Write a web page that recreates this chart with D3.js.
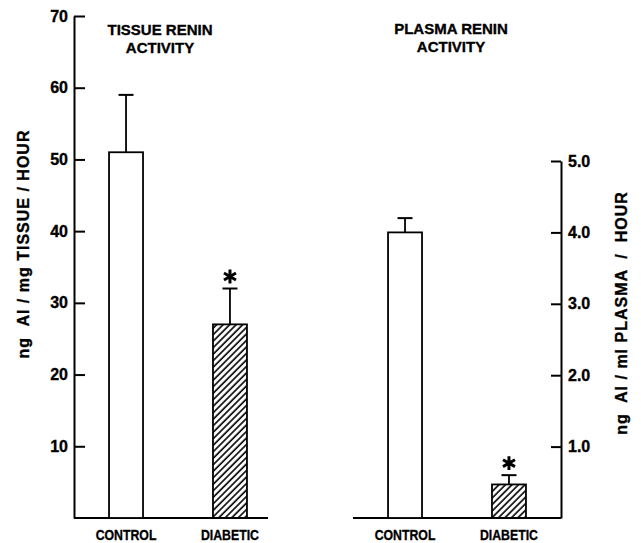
<!DOCTYPE html>
<html>
<head>
<meta charset="utf-8">
<script src="https://cdn.jsdelivr.net/npm/d3@7"></script>
<style>
  body { margin: 0; background: #fff; }
  svg { display: block; font-family: "Liberation Sans", Arial, sans-serif; font-weight: bold; }
  svg text { stroke: #000; stroke-width: 0.35px; }
</style>
</head>
<body>
<svg id="chart" width="641" height="543"></svg>
<script>
// values
const categories = ["CONTROL", "DIABETIC"];
const tissueMean = [51, 27];      // ng AI / mg tissue / hour
const tissueSem = [8, 5];
const plasmaMean = [4.0, 0.47];   // ng AI / ml plasma / hour
const plasmaSem = [0.2, 0.13];
const significant = [false, true];
const tissueTicks = [10, 20, 30, 40, 50, 60, 70];
const plasmaTicks = [1, 2, 3, 4, 5];

const width = 641, height = 543;
const baseY = 518;

const svg = d3.select("#chart");

// diagonal hatch for the diabetic bars
svg.append("defs").append("pattern")
    .attr("id", "hatch")
    .attr("patternUnits", "userSpaceOnUse")
    .attr("width", 4.6)
    .attr("height", 4.6)
    .attr("patternTransform", "rotate(45)")
    .append("line")
    .attr("x1", 1).attr("y1", 0)
    .attr("x2", 1).attr("y2", 4.6)
    .attr("stroke", "#000")
    .attr("stroke-width", 1.6);

const fillFor = i => i === 1 ? "url(#hatch)" : "#fff";

function panel({mean, sem, x, y}) {
    const g = svg.append("g");

    // bars
    g.selectAll("rect.bar")
        .data(categories)
        .join("rect")
        .attr("class", "bar")
        .attr("x", d => x(d))
        .attr("width", x.bandwidth())
        .attr("y", (d, i) => y(mean[i]))
        .attr("height", (d, i) => y(0) - y(mean[i]))
        .attr("fill", (d, i) => fillFor(i))
        .attr("stroke", "#000")
        .attr("stroke-width", 1.8);

    // upper error bars
    const cap = 15;
    g.selectAll("line.err")
        .data(categories)
        .join("line")
        .attr("class", "err")
        .attr("x1", d => x(d) + x.bandwidth() / 2)
        .attr("x2", d => x(d) + x.bandwidth() / 2)
        .attr("y1", (d, i) => y(mean[i]))
        .attr("y2", (d, i) => y(mean[i] + sem[i]))
        .attr("stroke", "#000")
        .attr("stroke-width", 1.8);
    g.selectAll("line.cap")
        .data(categories)
        .join("line")
        .attr("class", "cap")
        .attr("x1", d => x(d) + x.bandwidth() / 2 - cap / 2)
        .attr("x2", d => x(d) + x.bandwidth() / 2 + cap / 2)
        .attr("y1", (d, i) => y(mean[i] + sem[i]))
        .attr("y2", (d, i) => y(mean[i] + sem[i]))
        .attr("stroke", "#000")
        .attr("stroke-width", 2);

    // significance asterisks
    g.selectAll("path.star")
        .data(categories.filter((d, i) => significant[i]))
        .join("path")
        .attr("class", "star")
        .attr("d", d3.symbol(d3.symbolAsterisk, 135))
        .attr("transform", d => {
            const i = categories.indexOf(d);
            return `translate(${x(d) + x.bandwidth() / 2},${y(mean[i] + sem[i]) - 12})`;
        })
        .attr("fill", "none")
        .attr("stroke", "#000")
        .attr("stroke-width", 3);

    // category labels (narrow, tall type as in the original)
    g.selectAll("text.cat")
        .data(categories)
        .join("text")
        .attr("class", "cat")
        .attr("transform", d => `translate(${x(d) + x.bandwidth() / 2},540) scale(0.82,1)`)
        .attr("text-anchor", "middle")
        .style("font-size", "15px")
        .text(d => d);

    return g;
}

// ---- left panel: tissue renin
const xL = d3.scaleBand().domain(categories).range([74, 282]).paddingInner(0.673).paddingOuter(0.337);
const yL = d3.scaleLinear().domain([0, 70]).range([baseY, 16]);

svg.append("line")
    .attr("x1", 74).attr("x2", 268)
    .attr("y1", baseY).attr("y2", baseY)
    .attr("stroke", "#000").attr("stroke-width", 2);

panel({mean: tissueMean, sem: tissueSem, x: xL, y: yL});

svg.append("g")
    .attr("transform", "translate(74,0)")
    .call(d3.axisLeft(yL).tickValues(tissueTicks).tickSizeInner(-11).tickSizeOuter(0).tickPadding(6))
    .call(g => g.selectAll("path, line").attr("stroke", "#000").attr("stroke-width", 2))
    .call(g => g.selectAll("text").attr("fill", "#000").style("font-size", "16px").style("font-weight", "bold"))
    .attr("font-family", null);

// ---- right panel: plasma renin
const xR = d3.scaleBand().domain(categories).range([353, 561]).paddingInner(0.673).paddingOuter(0.337);
const yR = d3.scaleLinear().domain([0, 5]).range([baseY, 161]);

svg.append("line")
    .attr("x1", 353).attr("x2", 561)
    .attr("y1", baseY).attr("y2", baseY)
    .attr("stroke", "#000").attr("stroke-width", 2);

panel({mean: plasmaMean, sem: plasmaSem, x: xR, y: yR});

svg.append("g")
    .attr("transform", "translate(561,0)")
    .call(d3.axisRight(yR).tickValues(plasmaTicks).tickFormat(d3.format(".1f")).tickSizeInner(-10).tickSizeOuter(0).tickPadding(7))
    .call(g => g.selectAll("path, line").attr("stroke", "#000").attr("stroke-width", 2))
    .call(g => g.selectAll("text").attr("fill", "#000").style("font-size", "16px").style("font-weight", "bold"))
    .attr("font-family", null);

// ---- titles
const titles = [
    {x: 160, lines: ["TISSUE RENIN", "ACTIVITY"], y: 35},
    {x: 451, lines: ["PLASMA RENIN", "ACTIVITY"], y: 33.5}
];
titles.forEach(t => {
    svg.append("text")
        .attr("text-anchor", "middle")
        .style("font-size", "15px")
        .selectAll("tspan")
        .data(t.lines)
        .join("tspan")
        .attr("x", t.x)
        .attr("y", (d, i) => t.y + i * 18.3)
        .text(d => d);
});

// ---- axis titles
svg.append("text")
    .attr("transform", "translate(28.5,244) rotate(-90)")
    .attr("text-anchor", "middle")
    .style("font-size", "16px")
    .style("letter-spacing", "1px")
    .style("white-space", "pre")
    .text("ng  AI / mg TISSUE / HOUR");

svg.append("text")
    .attr("transform", "translate(626.5,313) rotate(-90)")
    .attr("text-anchor", "middle")
    .style("font-size", "16px")
    .style("letter-spacing", "1px")
    .style("white-space", "pre")
    .text("ng  AI / ml PLASMA  /  HOUR");
</script>
</body>
</html>
